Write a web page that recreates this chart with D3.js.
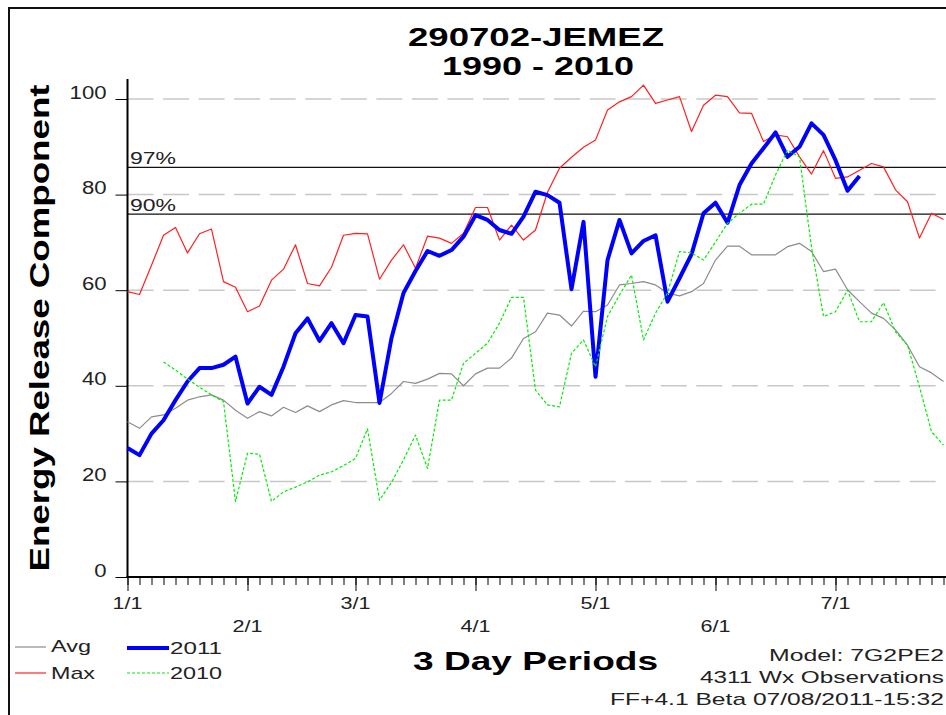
<!DOCTYPE html>
<html><head><meta charset="utf-8">
<script src="https://cdn.jsdelivr.net/npm/d3@7"></script>
<style>html,body{margin:0;padding:0;background:#fff;} svg{display:block;font-family:"Liberation Sans",Arial,sans-serif;}</style>
</head><body><div id="chart"></div>
<script>
// ---------------- data ----------------
const titleLines = ["290702-JEMEZ", "1990 - 2010"];
const yLabel = "Energy Release Component";
const xLabel = "3 Day Periods";
const yTicks = [0, 20, 40, 60, 80, 100];
const gridValues = [20, 40, 60, 80, 100];
const monthLabels = ["1/1", "2/1", "3/1", "4/1", "5/1", "6/1", "7/1"];
const monthIndex = [0, 10, 19, 29, 39, 49, 59];
const periodCount = 69;
const percentileLabels = ["97%", "90%"];
const percentileValues = [85.7, 75.9];
const footerLines = ["Model: 7G2PE2", "4311 Wx Observations", "FF+4.1 Beta 07/08/2011-15:32"];

const avgValues = [32.5,31.1,33.5,33.9,35.3,37,37.7,38.1,37,34.9,33.2,34.6,33.7,35.5,34.4,35.8,34.6,36,36.9,36.5,
  36.5,36.5,38.4,40.9,40.5,41.4,42.6,42.5,40,42.5,43.7,43.7,45.8,49.9,51.3,55.2,54.8,52.5,55.6,55.5,
  56.9,61.1,61.4,61.8,61.1,59.4,58.8,59.7,61.4,66.3,69.2,69.2,67.4,67.4,67.4,69.1,69.8,68.1,63.9,64.4,
  60.1,57.6,55.2,54.1,51.7,48.5,44,42.7,40.9];
const maxValues = [59.7,59.1,65.2,71.5,73.1,67.8,71.8,72.8,61.8,60.6,55.5,56.7,62.1,64.4,69.5,61.4,60.9,64.8,71.5,71.9,
  71.8,62.3,66.3,69.5,64.6,71.3,70.9,69.8,71.9,77.3,77.3,70.5,73.6,70.5,72.6,80.5,85.5,87.8,89.9,91.4,
  97.7,99.4,100.5,102.9,99.1,99.8,100.5,93.2,98.7,100.8,100.5,97.1,97,91.1,92.5,92.1,87.9,84.3,89.2,83.4,
  83.7,85.1,86.5,85.8,81,78.5,70.9,76.1,74.8];
const values2011 = [27,25.5,30,32.8,37,40.9,43.7,43.7,44.4,46.1,36.3,39.8,38.1,44,51,54.1,49.4,53.1,48.9,54.8,
  54.5,36.4,50,59.4,64,68.2,67.2,68.4,71.2,75.7,74.7,72.6,71.8,75.4,80.6,79.9,78.3,60.2,74.3,41.9,
  66.3,74.7,67.7,70.3,71.5,57.6,62.5,67.5,76.1,78.3,74.1,82,86.5,89.7,93,87.9,90,94.9,92.5,87.2,
  80.8,83.9];
const values2010 = [null,null,null,45,43.3,41.4,39.7,38.1,36.7,15.8,25.9,25.7,15.8,17.8,18.8,19.9,21.3,22,23.3,24.8,
  31,16.1,19.8,24.5,29.7,22.7,37,37,44.7,46.8,48.9,53.1,58.5,58.5,39.1,36,35.6,46.8,49.6,44,
  54.5,59,63.2,49.6,55.2,59.4,68.1,67.8,66.3,70.1,74,76.1,78,78,84.1,89.3,87.9,69,54.5,55.5,
  60,53.4,53.4,57.4,51.3,48.5,39.8,30.4,27.6];

const legendItems = [
  {name: "Avg", color: "#8c8c8c", width: 1.2, dash: null},
  {name: "Max", color: "#ff2020", width: 1.2, dash: null},
  {name: "2011", color: "#0000ff", width: 4, dash: null},
  {name: "2010", color: "#00ee00", width: 1.2, dash: "3,2"}
];

// ---------------- drawing ----------------
const W = 946, H = 715;
const svg = d3.select("#chart").append("svg").attr("width", W).attr("height", H);
svg.append("rect").attr("width", W).attr("height", H).attr("fill", "#fff");

const x = d3.scaleLinear().domain([0, periodCount - 1]).range([127.5, 943.5]);
const y = d3.scaleLinear().domain([0, 100]).range([577, 99]);

function txt(str, px, py, o) {
  const t = svg.append("text").attr("x", px).attr("y", py)
    .attr("font-size", o.size).attr("font-weight", o.weight || "normal")
    .attr("text-anchor", o.anchor || "start").attr("fill", o.fill || "#000").text(str);
  if (o.len) t.attr("textLength", o.len).attr("lengthAdjust", "spacingAndGlyphs");
  if (o.transform) t.attr("transform", o.transform);
  return t;
}

// border
svg.append("path").attr("d", "M9,715V8H946").attr("fill", "none").attr("stroke", "#111").attr("stroke-width", 2);

// title
txt(titleLines[0], 536, 46, {size: 25.5, weight: "bold", anchor: "middle", len: 256});
txt(titleLines[1], 538, 75, {size: 25.5, weight: "bold", anchor: "middle", len: 192});

// y label
txt(yLabel, 0, 0, {size: 28, weight: "bold", anchor: "middle", len: 487, transform: "translate(49,328) rotate(-90)"});

// grid
svg.append("g").selectAll("line").data(gridValues).join("line")
  .attr("x1", x(0)).attr("x2", 940).attr("y1", d => y(d)).attr("y2", d => y(d))
  .attr("stroke", "#c8c8c8").attr("stroke-width", 1.5).attr("stroke-dasharray", "26,9.55");

// percentile lines
svg.append("g").selectAll("line").data(percentileValues).join("line")
  .attr("x1", x(0)).attr("x2", W).attr("y1", d => y(d)).attr("y2", d => y(d))
  .attr("stroke", "#111").attr("stroke-width", 1.3);
percentileLabels.forEach((l, i) => txt(l, 130, y(percentileValues[i]) - 3, {size: 17, len: 46, fill: "#222"}));

// y axis
const yAxis = d3.axisLeft(y).tickValues(yTicks).tickSize(12).tickPadding(9);
const gy = svg.append("g").attr("transform", `translate(${x(0)},0)`).call(yAxis);
gy.select(".domain").remove();
gy.selectAll(".tick line").attr("stroke", "#000");
gy.selectAll(".tick text").attr("dy", "-0.05em").attr("font-size", 18).attr("font-family", "Liberation Sans, Arial, sans-serif")
  .attr("fill", "#222")
  .each(function(d) { d3.select(this).attr("textLength", String(d).length * 12.3).attr("lengthAdjust", "spacingAndGlyphs"); });
svg.append("line").attr("x1", x(0)).attr("x2", x(0)).attr("y1", 79).attr("y2", y(0)).attr("stroke", "#000").attr("stroke-width", 2);

// x axis
const gxMinor = svg.append("g").attr("transform", `translate(0,${y(0)})`)
  .call(d3.axisBottom(x).tickValues(d3.range(0, periodCount)).tickSize(8).tickFormat(""));
gxMinor.select(".domain").remove();
gxMinor.selectAll(".tick line").attr("stroke", "#000");
const gxMajor = svg.append("g").attr("transform", `translate(0,${y(0)})`)
  .call(d3.axisBottom(x).tickValues(monthIndex).tickSize(14).tickFormat(""));
gxMajor.select(".domain").remove();
gxMajor.selectAll(".tick line").attr("stroke", "#000");
svg.append("line").attr("x1", x(0) - 1).attr("x2", W).attr("y1", y(0)).attr("y2", y(0)).attr("stroke", "#000").attr("stroke-width", 2);
monthIndex.forEach((m, i) => {
  txt(monthLabels[i], x(m), i % 2 === 0 ? 609 : 632, {size: 17, anchor: "middle", len: 30, fill: "#222"});
});

// series
const line = d3.line().defined(d => d != null).x((d, i) => x(i)).y(d => y(d));
const seriesData = [avgValues, maxValues, values2011, values2010];
seriesData.forEach((vals, k) => {
  const it = legendItems[k];
  svg.append("path").datum(vals).attr("d", line).attr("fill", "none")
    .attr("stroke", it.color).attr("stroke-width", it.width)
    .attr("stroke-linejoin", "round").attr("stroke-dasharray", it.dash);
});

// legend
const legendPos = [
  {lx: 15, ly: 647, tx: 51, ty: 652, len: 40},
  {lx: 15, ly: 673, tx: 51, ty: 679, len: 44},
  {lx: 127, ly: 648, tx: 170, ty: 654, len: 52},
  {lx: 127, ly: 673, tx: 170, ty: 679, len: 52}
];
legendItems.forEach((it, k) => {
  const p = legendPos[k];
  svg.append("line").attr("x1", p.lx).attr("x2", p.lx + (k < 2 ? 31 : 42)).attr("y1", p.ly).attr("y2", p.ly)
    .attr("stroke", it.color).attr("stroke-width", it.width).attr("stroke-dasharray", it.dash);
  txt(it.name, p.tx, p.ty, {size: 17, len: p.len, fill: "#222"});
});

// x label
txt(xLabel, 413, 670, {size: 25, weight: "bold", len: 245});

// footer
const footerY = [661, 683, 705], footerLen = [175, 244, 334];
footerLines.forEach((l, i) => txt(l, 944, footerY[i], {size: 17, anchor: "end", len: footerLen[i], fill: "#222"}));
</script>
</body></html>
